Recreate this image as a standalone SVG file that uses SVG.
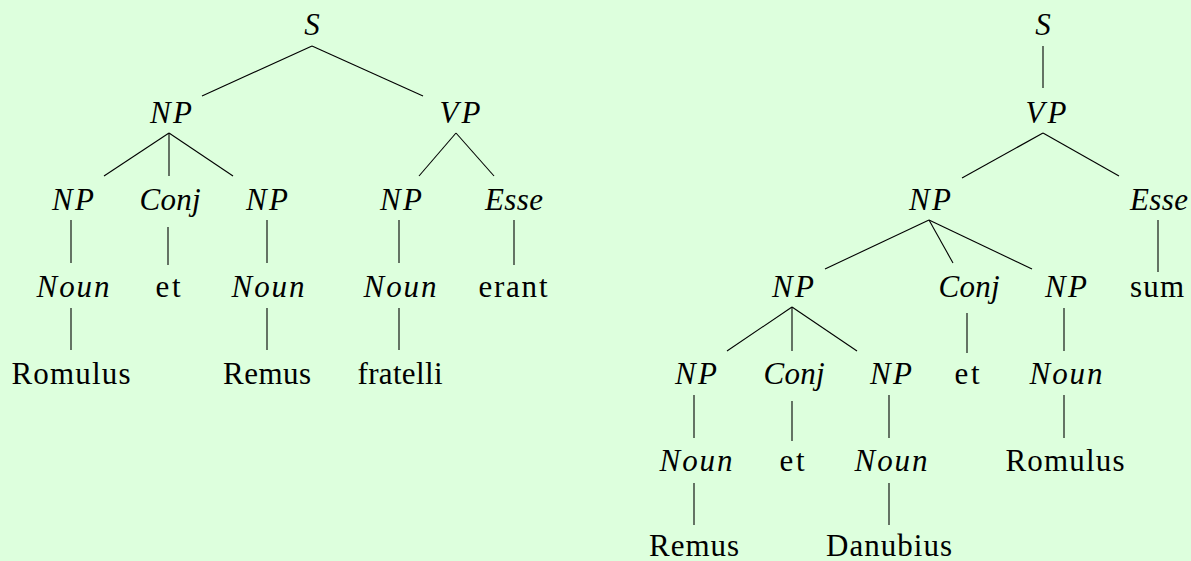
<svg xmlns="http://www.w3.org/2000/svg" width="1191" height="561" viewBox="0 0 1191 561">
<style>
.t text{font-size:31px;fill:#000;text-anchor:middle}
.m{font-style:italic}
.e line{stroke:#000;stroke-width:1.1;fill:none}
</style>
<rect width="1191" height="561" fill="#DDFFDD"/>
<g class="e" id="connectors">
<line x1="312" y1="46" x2="202" y2="96"/>
<line x1="312" y1="46" x2="423" y2="96"/>
<line x1="169" y1="133" x2="104" y2="176"/>
<line x1="169" y1="133" x2="169" y2="176"/>
<line x1="169" y1="133" x2="233" y2="176"/>
<line x1="456" y1="133" x2="419" y2="176"/>
<line x1="456" y1="133" x2="494" y2="176"/>
<line x1="71" y1="220" x2="71" y2="263"/>
<line x1="168" y1="227" x2="168" y2="265"/>
<line x1="267" y1="220" x2="267" y2="263"/>
<line x1="399" y1="220" x2="399" y2="263"/>
<line x1="514" y1="220" x2="514" y2="265"/>
<line x1="71" y1="308" x2="71" y2="350"/>
<line x1="267" y1="308" x2="267" y2="350"/>
<line x1="399" y1="308" x2="399" y2="350"/>
<line x1="1043" y1="46" x2="1043" y2="88"/>
<line x1="1043" y1="133" x2="962" y2="178"/>
<line x1="1043" y1="133" x2="1119" y2="176"/>
<line x1="929" y1="220" x2="825" y2="269"/>
<line x1="929" y1="220" x2="953" y2="263"/>
<line x1="929" y1="220" x2="1032" y2="269"/>
<line x1="1158" y1="220" x2="1158" y2="272"/>
<line x1="792" y1="307" x2="727" y2="351"/>
<line x1="792" y1="307" x2="792" y2="351"/>
<line x1="792" y1="307" x2="857" y2="351"/>
<line x1="967" y1="313" x2="967" y2="353"/>
<line x1="1064" y1="308" x2="1064" y2="351"/>
<line x1="694" y1="395" x2="694" y2="438"/>
<line x1="792" y1="401" x2="792" y2="441"/>
<line x1="889" y1="395" x2="889" y2="438"/>
<line x1="1064" y1="395" x2="1064" y2="438"/>
<line x1="694" y1="483" x2="694" y2="525"/>
<line x1="889" y1="483" x2="889" y2="525"/>
</g>
<g class="t" font-family="Liberation Serif, Times New Roman, DejaVu Serif, Noto Serif, serif">
<g id="L-S"><text class="m" x="312" y="35">S</text></g>
<g id="L-NP"><text class="m" x="171" y="123" textLength="42" lengthAdjust="spacing">NP</text></g>
<g id="L-VP"><text class="m" x="460" y="123" textLength="41" lengthAdjust="spacing">VP</text></g>
<g id="L-NP1"><text class="m" x="73" y="210" textLength="42" lengthAdjust="spacing">NP</text></g>
<g id="L-Conj"><text class="m" x="170" y="210" textLength="61" lengthAdjust="spacing">Conj</text></g>
<g id="L-NP2"><text class="m" x="267" y="210" textLength="42" lengthAdjust="spacing">NP</text></g>
<g id="L-NP3"><text class="m" x="401" y="210" textLength="42" lengthAdjust="spacing">NP</text></g>
<g id="L-Esse"><text class="m" x="514" y="210" textLength="58" lengthAdjust="spacing">Esse</text></g>
<g id="L-Noun1"><text class="m" x="73" y="297" textLength="73" lengthAdjust="spacing">Noun</text></g>
<g id="L-et"><text x="168" y="297" textLength="25" lengthAdjust="spacing">et</text></g>
<g id="L-Noun2"><text class="m" x="268" y="297" textLength="73" lengthAdjust="spacing">Noun</text></g>
<g id="L-Noun3"><text class="m" x="400" y="297" textLength="73" lengthAdjust="spacing">Noun</text></g>
<g id="L-erant"><text x="513" y="297" textLength="69" lengthAdjust="spacing">erant</text></g>
<g id="L-Romulus"><text x="71" y="384" textLength="119" lengthAdjust="spacing">Romulus</text></g>
<g id="L-Remus"><text x="267" y="384" textLength="88" lengthAdjust="spacing">Remus</text></g>
<g id="L-fratelli"><text x="400" y="384" textLength="85" lengthAdjust="spacing">fratelli</text></g>
<g id="R-S"><text class="m" x="1043" y="35">S</text></g>
<g id="R-VP"><text class="m" x="1046" y="123" textLength="41" lengthAdjust="spacing">VP</text></g>
<g id="R-NP"><text class="m" x="930" y="210" textLength="42" lengthAdjust="spacing">NP</text></g>
<g id="R-Esse"><text class="m" x="1159" y="210" textLength="58" lengthAdjust="spacing">Esse</text></g>
<g id="R-NP1"><text class="m" x="793" y="297" textLength="42" lengthAdjust="spacing">NP</text></g>
<g id="R-Conj"><text class="m" x="969" y="297" textLength="61" lengthAdjust="spacing">Conj</text></g>
<g id="R-NP2"><text class="m" x="1066" y="297" textLength="42" lengthAdjust="spacing">NP</text></g>
<g id="R-sum"><text x="1157" y="297" textLength="54" lengthAdjust="spacing">sum</text></g>
<g id="R-NP11"><text class="m" x="696" y="384" textLength="42" lengthAdjust="spacing">NP</text></g>
<g id="R-Conj1"><text class="m" x="794" y="384" textLength="61" lengthAdjust="spacing">Conj</text></g>
<g id="R-NP12"><text class="m" x="891" y="384" textLength="42" lengthAdjust="spacing">NP</text></g>
<g id="R-et"><text x="967" y="384" textLength="25" lengthAdjust="spacing">et</text></g>
<g id="R-Noun"><text class="m" x="1066" y="384" textLength="73" lengthAdjust="spacing">Noun</text></g>
<g id="R-Noun1"><text class="m" x="696" y="471" textLength="73" lengthAdjust="spacing">Noun</text></g>
<g id="R-et1"><text x="792" y="471" textLength="25" lengthAdjust="spacing">et</text></g>
<g id="R-Noun2"><text class="m" x="891" y="471" textLength="73" lengthAdjust="spacing">Noun</text></g>
<g id="R-Romulus"><text x="1065" y="471" textLength="119" lengthAdjust="spacing">Romulus</text></g>
<g id="R-Remus"><text x="694" y="556" textLength="90" lengthAdjust="spacing">Remus</text></g>
<g id="R-Danubius"><text x="889" y="556" textLength="126" lengthAdjust="spacing">Danubius</text></g>
</g>
</svg>
